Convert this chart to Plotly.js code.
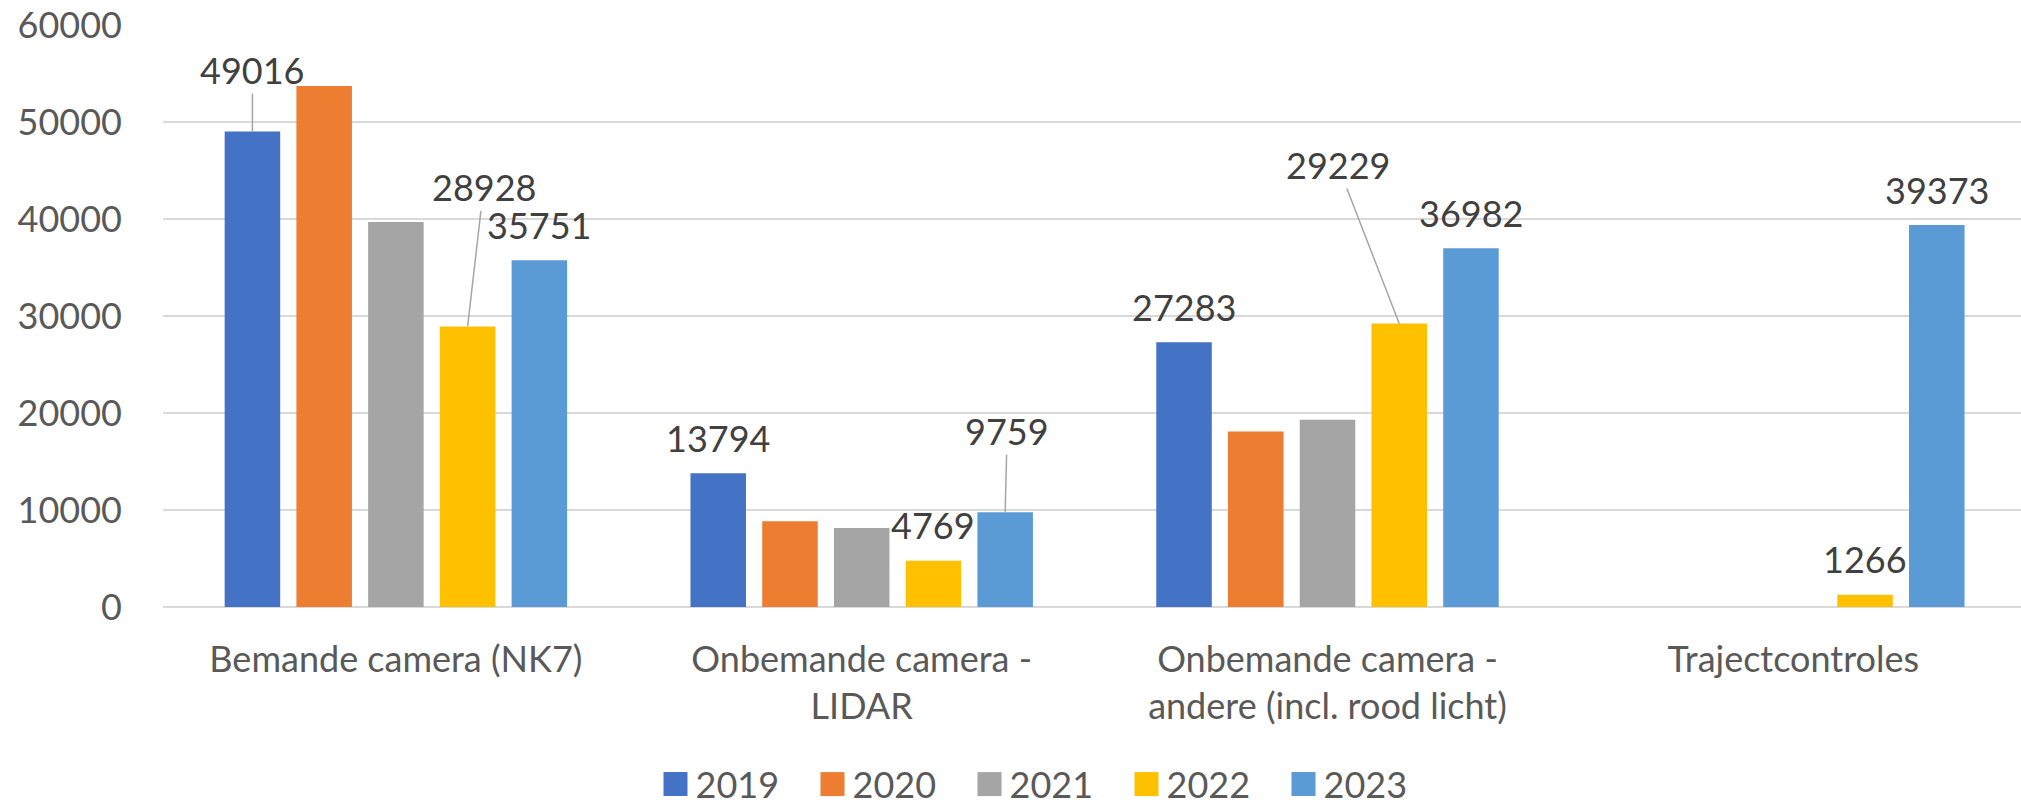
<!DOCTYPE html>
<html><head><meta charset="utf-8">
<script src="https://cdn.plot.ly/plotly-3.0.1.min.js"></script>
<style>html,body{margin:0;padding:0;background:#fff;} #chart{width:2021px;height:806px;}</style>
</head><body><div id="chart"></div>
<script>
// ---- data ----
const categories = ["Bemande camera (NK7)", "Onbemande camera -<br>LIDAR", "Onbemande camera -<br>andere (incl. rood licht)", "Trajectcontroles"];
const years = ["2019", "2020", "2021", "2022", "2023"];
const v2019 = [49016, 13794, 27283, null];
const v2020 = [53700, 8850, 18100, null];
const v2021 = [39700, 8150, 19300, null];
const v2022 = [28928, 4769, 29229, 1266];
const v2023 = [35751, 9759, 36982, 39373];
const seriesValues = [v2019, v2020, v2021, v2022, v2023];
// which bars carry a data label (series index, category index)
const labelledBars = [[0,0],[3,0],[4,0],[0,1],[3,1],[4,1],[0,2],[3,2],[4,2],[3,3],[4,3]];

// ---- style ----
const colors = ["#4472C4", "#ED7D31", "#A5A5A5", "#FFC000", "#5B9BD5"];
const FONT = "Lato, 'Open Sans', sans-serif";
const BARGAP = 0.23, BARGROUPGAP = 0.226;
// manually moved labels: offset in px from bar top to label centre, with leader line
const movedLabels = {"0,0": [0, -61.5], "3,0": [16, -139], "4,1": [2, -81], "3,2": [-61.5, -158.4]};

const traces = years.map((y, i) => ({
  type: "bar", name: y, x: categories, y: seriesValues[i],
  marker: {color: colors[i], line: {width: 0}},
  hoverinfo: "skip"
}));

const slot = (1 - BARGAP) / years.length;
const annotations = labelledBars.map(([s, c]) => {
  const val = seriesValues[s][c];
  const base = {
    x: c + (s - (years.length - 1) / 2) * slot, y: val, xref: "x", yref: "y",
    text: String(val), font: {family: FONT, size: 36, color: "#404040"}
  };
  const mv = movedLabels[s + "," + c];
  if (mv) {
    return Object.assign(base, {showarrow: true, arrowhead: 0, arrowwidth: 1.5, arrowcolor: "#A6A6A6",
      ax: mv[0], ay: mv[1], standoff: 0});
  }
  return Object.assign(base, {showarrow: false, yanchor: "middle", yshift: 35.5});
});

const W = 2021, H = 806, L = 163, T = 24.5, B = 198.5;
const groupPx = 465.8;
const layout = {
  width: W, height: H,
  margin: {l: L, r: 0, t: T, b: B, pad: 0, autoexpand: false},
  paper_bgcolor: "#ffffff", plot_bgcolor: "#ffffff",
  barmode: "group", bargap: BARGAP, bargroupgap: BARGROUPGAP,
  showlegend: true,
  font: {family: FONT, size: 36, color: "#595959"},
  xaxis: {
    type: "category", range: [-0.5, -0.5 + (W - L) / groupPx],
    showgrid: false, zeroline: false, showline: false, ticks: "",
    tickfont: {family: FONT, size: 36, color: "#595959"},
    ticklabelstandoff: 28, fixedrange: true, automargin: false
  },
  yaxis: {
    range: [0, 60000], dtick: 10000, tickformat: "d",
    showgrid: true, gridcolor: "#D9D9D9", gridwidth: 2,
    zeroline: true, zerolinecolor: "#D9D9D9", zerolinewidth: 2,
    showline: false, ticks: "",
    tickfont: {family: FONT, size: 36, color: "#595959"},
    ticklabelstandoff: 40, fixedrange: true, automargin: false
  },
  legend: {
    orientation: "h", x: (1048 - L) / (W - L), xanchor: "center",
    y: -(785 - (H - B)) / (H - B - T), yanchor: "middle",
    font: {family: FONT, size: 36, color: "#595959"},
    entrywidth: 112, entrywidthmode: "pixels", itemwidth: 30, traceorder: "normal",
    bgcolor: "rgba(0,0,0,0)"
  },
  annotations: annotations,
  hovermode: false
};

Plotly.newPlot("chart", traces, layout, {displayModeBar: false, staticPlot: true}).then(() => {
  document.querySelectorAll("#chart .legend .legendpoints path").forEach(p => {
    const t = p.getAttribute("transform") || "";
    p.setAttribute("transform", t + " scale(2)");
  });
});
</script>
</body></html>
